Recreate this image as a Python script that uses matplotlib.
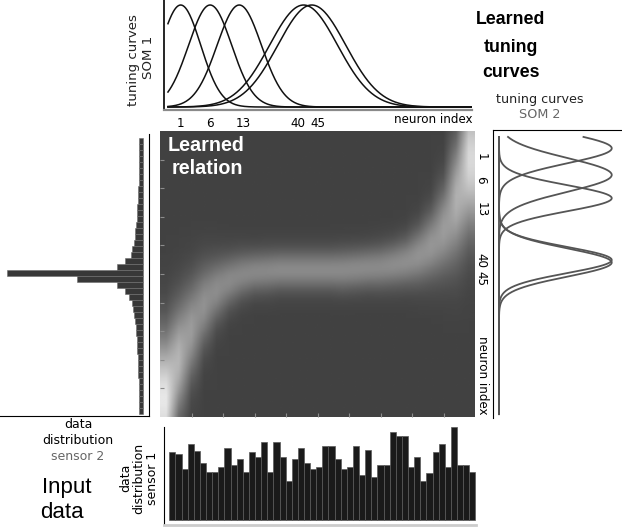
import numpy as np
import matplotlib

matplotlib.use("Agg")
import matplotlib.pyplot as plt
from matplotlib.transforms import blended_transform_factory


W, H = 622, 528

# tuning curves of SOM 1 (preferred value / width in input space 0..1)
SOM1_NEURONS = ["1", "6", "13", "40", "45"]
SOM1_CENTER = [0.042, 0.139, 0.235, 0.447, 0.474]
SOM1_WIDTH = [0.066, 0.071, 0.073, 0.112, 0.112]
SOM1_LABEL_POS = [0.040, 0.139, 0.248, 0.429, 0.495]

# tuning curves of SOM 2
SOM2_NEURONS = ["1", "6", "13", "40", "45"]
SOM2_CENTER = [0.041, 0.137, 0.221, 0.444, 0.453]
SOM2_WIDTH = [0.054, 0.061, 0.047, 0.047, 0.051]
SOM2_LABEL_POS = [0.072, 0.155, 0.264, 0.444, 0.509]

# histogram of sensor 1 (50 bins)
SENSOR1_COUNTS = [
    205, 199, 153, 228, 209, 172, 145, 145, 160, 216,
    166, 184, 145, 205, 191, 234, 145, 234, 191, 116,
    184, 216, 172, 153, 160, 222, 222, 184, 153, 160,
    222, 136, 210, 130, 166, 166, 265, 252, 252, 160,
    191, 116, 143, 205, 228, 160, 280, 166, 166, 146,
]

# histogram of sensor 2 (46 bins, top to bottom)
SENSOR2_COUNTS = [
    4.3, 4.3, 4.3, 4.3, 4.3, 4.3, 4.3, 4.7, 5.0, 5.3,
    5.7, 6.0, 6.3, 6.7, 7.0, 8.0, 8.5, 9.5, 11.0, 12.6,
    18.3, 26.6, 136.6, 66.0, 26.6, 18.3, 14.0, 11.6, 10.0, 9.0,
    8.0, 7.5, 7.0, 6.7, 6.3, 6.0, 5.7, 5.3, 5.2, 5.0,
    4.8, 4.6, 4.4, 4.3, 4.3, 4.2,
]

# learned relation: per column of the map, where the bright band sits,
# how spread it is and how bright it is (gray levels)
REL_CENTER = [0.941, 0.801, 0.696, 0.608, 0.556, 0.524, 0.503, 0.493, 0.490,
              0.486, 0.486, 0.486, 0.486, 0.486, 0.486, 0.483, 0.479, 0.476,
              0.469, 0.458, 0.437, 0.402, 0.346, 0.241, 0.101]
REL_SPREAD = [0.155, 0.135, 0.115, 0.095, 0.075, 0.062, 0.055, 0.050, 0.050,
              0.048, 0.048, 0.048, 0.048, 0.048, 0.050, 0.050, 0.050, 0.052,
              0.054, 0.058, 0.068, 0.082, 0.105, 0.145, 0.170]
REL_PEAK = [165, 115, 90, 80, 75, 72, 70, 70, 70, 72, 72, 72, 72, 72, 72,
            72, 72, 72, 74, 76, 80, 84, 90, 110, 150]
REL_BACKGROUND = 66

SMALL = "DejaVu Sans"
BIG = "Liberation Sans"


def px_axes(fig, x0, y0, x1, y1):
    return fig.add_axes([x0 / W, 1 - y1 / H, (x1 - x0) / W, (y1 - y0) / H])


def px_text(fig, x, y, s, **kw):
    kw.setdefault("ha", "center")
    kw.setdefault("va", "center")
    fig.text(x / W, 1 - y / H, s, **kw)


def gauss(v, c, s):
    return np.exp(-((v - c) ** 2) / (2 * s ** 2))


def main():
    fig = plt.figure(figsize=(W / 100, H / 100), dpi=100)

    # top: tuning curves SOM 1
    ax = px_axes(fig, 164, 0, 472, 110)
    xs = np.linspace(0, 1, 500)
    for c, s in zip(SOM1_CENTER, SOM1_WIDTH):
        ax.plot(xs, gauss(xs, c, s), color="#111111", linewidth=1.1)
    ax.set_xlim(-0.013, 1.002)
    ax.set_ylim(-0.029, 1.049)
    ax.spines["top"].set_visible(False)
    ax.spines["right"].set_visible(False)
    ax.spines["bottom"].set_color("#8a8a8a")
    ax.spines["bottom"].set_linewidth(1.6)
    ax.spines["left"].set_linewidth(1.2)
    ax.set_yticks([])
    ax.set_xticks(SOM1_LABEL_POS, SOM1_NEURONS, fontsize=8.6, family=SMALL)
    ax.tick_params(axis="x", length=0, pad=5)
    ax.text(1.0, -0.09, "neuron index", transform=ax.transAxes, ha="right",
            va="center", fontsize=8.6, family=SMALL)

    # right: tuning curves SOM 2
    ax = px_axes(fig, 493, 130, 622, 418)
    ys = np.linspace(0, 1, 500)
    for c, s in zip(SOM2_CENTER, SOM2_WIDTH):
        ax.plot(gauss(ys, c, s), ys, color="#555555", linewidth=1.3)
    ax.set_xlim(-0.053, 1.091)
    ax.set_ylim(1.014, -0.025)
    ax.spines["bottom"].set_visible(False)
    ax.spines["right"].set_visible(False)
    ax.set_xticks([])
    ax.set_yticks(SOM2_LABEL_POS, SOM2_NEURONS, fontsize=8.6, family=SMALL,
                  rotation=270, va="center")
    ax.tick_params(axis="y", length=0, pad=4)
    tr = blended_transform_factory(ax.transAxes, ax.transData)
    ax.text(-0.078, 0.859, "neuron index", transform=tr, rotation=270,
            ha="center", va="center", fontsize=8.6, family=SMALL)

    # center: learned relation
    ax = px_axes(fig, 160, 131, 475, 417)
    rows = (np.arange(100) + 0.5) / 100
    rel = np.full((100, len(REL_CENTER)), float(REL_BACKGROUND))
    for col, (c, s, p) in enumerate(zip(REL_CENTER, REL_SPREAD, REL_PEAK)):
        rel[:, col] += p * gauss(rows, c, s)
    ax.imshow(rel, cmap="gray", vmin=0, vmax=255, aspect="auto",
              interpolation="bilinear", extent=(0, 1, 1, 0))
    ax.set_xticks(np.arange(1, 10) / 10)
    ax.set_yticks(np.arange(1, 10) / 10)
    ax.tick_params(direction="in", length=3, color="#8c8c8c",
                   labelbottom=False, labelleft=False)
    for sp in ax.spines.values():
        sp.set_visible(False)
    ax.text(0.145, 0.95, "Learned", transform=ax.transAxes, color="white",
            ha="center", va="center", fontsize=14.2, weight="bold", family=BIG)
    ax.text(0.15, 0.87, "relation", transform=ax.transAxes, color="white",
            ha="center", va="center", fontsize=14.2, weight="bold", family=BIG)

    # left: data distribution sensor 2
    ax = px_axes(fig, 0, 134, 149.3, 416)
    ax.barh(np.arange(len(SENSOR2_COUNTS)) + 0.5, SENSOR2_COUNTS, height=1,
            color="#383838", edgecolor="#6e6e6e", linewidth=0.4)
    ax.set_xlim(143.3, -6)
    ax.set_ylim(len(SENSOR2_COUNTS) + 0.33, -0.67)
    ax.spines["top"].set_visible(False)
    ax.spines["left"].set_visible(False)
    ax.set_xticks([])
    ax.set_yticks([])

    # bottom: data distribution sensor 1
    ax = px_axes(fig, 164, 427, 476, 525)
    ax.bar(np.arange(len(SENSOR1_COUNTS)), SENSOR1_COUNTS, width=1, align="edge",
           color="#1a1a1a", edgecolor="#5a5a5a", linewidth=0.5)
    ax.set_xlim(-0.87, 50.1)
    ax.set_ylim(-15, 280)
    ax.spines["top"].set_visible(False)
    ax.spines["right"].set_visible(False)
    ax.spines["bottom"].set_color("#cccccc")
    ax.spines["bottom"].set_linewidth(2)
    ax.set_xticks([])
    ax.set_yticks([])

    # labels
    px_text(fig, 133, 60, "tuning curves", rotation=90, fontsize=9.6,
            family=SMALL, color="#222222")
    px_text(fig, 148, 57, "SOM 1", rotation=90, fontsize=9.6, family=SMALL,
            color="#222222")
    for y, s in zip([20, 47, 73], ["Learned", "tuning", "curves"]):
        px_text(fig, 511, y, s, fontsize=12.8, weight="bold", family=BIG)
    px_text(fig, 540, 100, "tuning curves", fontsize=9.2, family=SMALL,
            color="#222222")
    px_text(fig, 540, 115, "SOM 2", fontsize=9.2, family=SMALL, color="#666666")
    px_text(fig, 78, 425, "data", fontsize=9, family=SMALL)
    px_text(fig, 78, 440, "distribution", fontsize=9, family=SMALL)
    px_text(fig, 78, 456, "sensor 2", fontsize=9, family=SMALL, color="#666666")
    px_text(fig, 67, 488, "Input", fontsize=16, family=BIG)
    px_text(fig, 62, 513, "data", fontsize=16, family=BIG)
    px_text(fig, 126, 478, "data", rotation=90, fontsize=9, family=SMALL)
    px_text(fig, 139, 478, "distribution", rotation=90, fontsize=9, family=SMALL)
    px_text(fig, 153, 478, "sensor 1", rotation=90, fontsize=9, family=SMALL)

    fig.savefig("out.png", dpi=100)


if __name__ == "__main__":
    main()
